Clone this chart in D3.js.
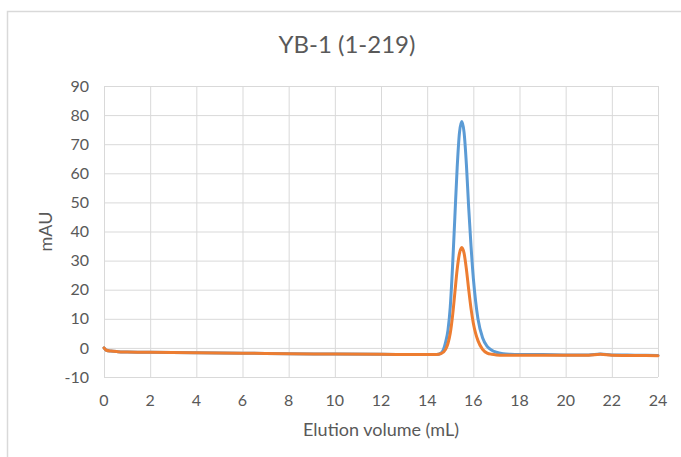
<!DOCTYPE html>
<html>
<head>
<meta charset="utf-8">
<script src="https://cdn.jsdelivr.net/npm/d3@7"></script>
<style>
  body { margin: 0; background: #fff; }
  svg { display: block; }
  text { font-family: Lato, "Open Sans", sans-serif; fill: #595959; }
</style>
</head>
<body>
<div id="chart"></div>
<script>
(function() {

  // ---------- data
  var title = 'YB-1 (1-219)';
  var xTicks = [0, 2, 4, 6, 8, 10, 12, 14, 16, 18, 20, 22, 24];
  var yTicks = [-10, 0, 10, 20, 30, 40, 50, 60, 70, 80, 90];

  var volume = [0, 0.1, 0.3, 0.6, 1, 2, 4, 6, 8, 10, 12, 14, 14.4, 14.6, 14.8, 14.9, 15.0, 15.1, 15.2, 15.3, 15.4, 15.5,
    15.6, 15.7, 15.8, 15.9, 16.0, 16.1, 16.2, 16.4, 16.6, 16.8, 17.0, 17.3, 17.6, 18, 19, 20, 21, 21.5, 22, 23, 24];

  var blue = [0, -0.8, -1.1, -1.3, -1.4, -1.5, -1.7, -1.8, -2.0, -2.1, -2.2, -2.3, -2.3, -1.8, 2, 6, 14, 28, 45, 62, 74, 77.8,
    74, 63, 48, 35, 24, 16, 10, 3.5, 0.5, -0.8, -1.5, -2.0, -2.2, -2.3, -2.3, -2.4, -2.4, -2.1, -2.4, -2.5, -2.6];

  var orange = [0, -0.8, -1.1, -1.3, -1.4, -1.5, -1.7, -1.8, -2.0, -2.1, -2.2, -2.3, -2.3, -2.0, -0.5, 1.5, 5, 11, 19, 27, 32.5, 34.5,
    32.5, 27, 20, 13.5, 8.5, 5, 2.5, -0.5, -1.8, -2.2, -2.4, -2.5, -2.5, -2.5, -2.5, -2.5, -2.5, -2.2, -2.5, -2.6, -2.7];

  // ----------
  var width = 681, height = 457;
  var plot = { left: 104, right: 658, top: 86, bottom: 377 };

  var svg = d3.select('#chart').append('svg')
    .attr('width', width)
    .attr('height', height);

  svg.append('rect')
    .attr('x', 7.5)
    .attr('y', 11.5)
    .attr('width', 700)
    .attr('height', 500)
    .style('fill', '#fff')
    .style('stroke', '#d9d9d9')
    .style('stroke-width', 1.5);

  var x = d3.scaleLinear().domain([0, 24]).range([plot.left, plot.right]);
  var y = d3.scaleLinear().domain([-10, 90]).range([plot.bottom, plot.top]);

  // gridlines
  svg.append('g')
    .attr('transform', 'translate(' + plot.left + ',0)')
    .call(d3.axisLeft(y).tickValues(yTicks).tickSize(-(plot.right - plot.left)).tickFormat(''));

  svg.append('g')
    .attr('transform', 'translate(0,' + plot.bottom + ')')
    .call(d3.axisBottom(x).tickValues(xTicks).tickSize(-(plot.bottom - plot.top)).tickFormat(''));

  svg.selectAll('.domain').remove();
  svg.selectAll('.tick line').style('stroke', '#d9d9d9').style('stroke-width', 1);

  // tick labels
  svg.append('g').selectAll('text')
    .data(yTicks)
    .enter().append('text')
    .attr('x', 89)
    .attr('y', function(d) { return y(d); })
    .attr('dy', '0.35em')
    .attr('text-anchor', 'end')
    .style('font-size', '16px')
    .text(function(d) { return d; });

  svg.append('g').selectAll('text')
    .data(xTicks)
    .enter().append('text')
    .attr('x', function(d) { return x(d); })
    .attr('y', 400)
    .attr('dy', '0.35em')
    .attr('text-anchor', 'middle')
    .style('font-size', '16px')
    .text(function(d) { return d; });

  // titles
  svg.append('text')
    .attr('x', 347)
    .attr('y', 45)
    .attr('dy', '0.35em')
    .attr('text-anchor', 'middle')
    .style('font-size', '24px')
    .text(title);

  svg.append('text')
    .attr('x', (plot.left + plot.right) / 2)
    .attr('y', 430)
    .attr('dy', '0.35em')
    .attr('text-anchor', 'middle')
    .style('font-size', '18px')
    .text('Elution volume (mL)');

  svg.append('text')
    .attr('transform', 'translate(46,' + ((plot.top + plot.bottom) / 2) + ') rotate(-90)')
    .attr('dy', '0.35em')
    .attr('text-anchor', 'middle')
    .style('font-size', '18px')
    .text('mAU');

  // traces
  var line = d3.line()
    .x(function(d) { return x(d[0]); })
    .y(function(d) { return y(d[1]); })
    .curve(d3.curveMonotoneX);

  [[blue, '#5b9bd5'], [orange, '#ed7d31']].forEach(function(s) {
    svg.append('path')
      .datum(d3.zip(volume, s[0]))
      .attr('d', line)
      .style('fill', 'none')
      .style('stroke', s[1])
      .style('stroke-width', 3)
      .style('stroke-linejoin', 'round')
      .style('stroke-linecap', 'round');
  });

})();
</script>
</body>
</html>
